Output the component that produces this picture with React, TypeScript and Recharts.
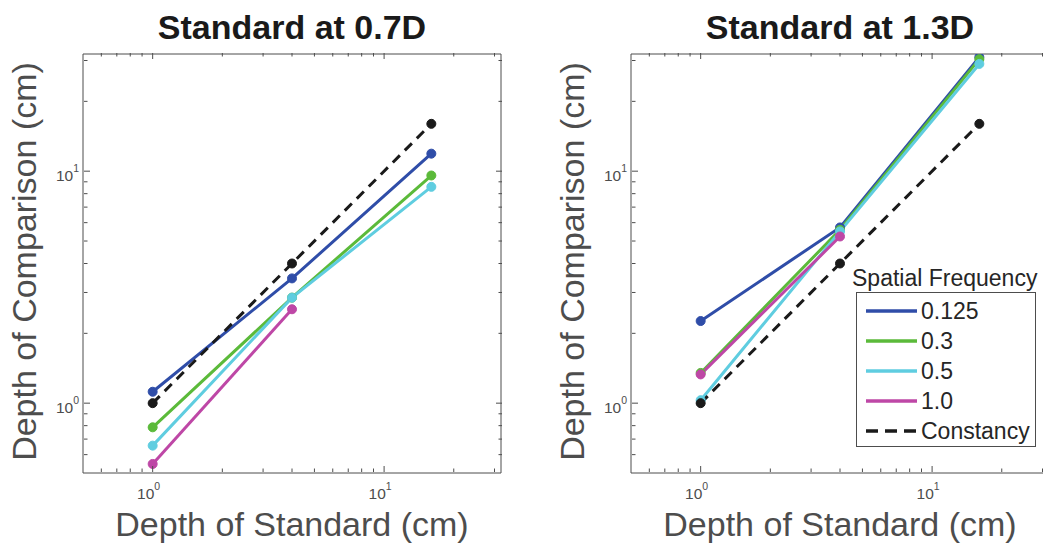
import { LineChart, Line, XAxis, YAxis, Legend, ReferenceArea } from 'recharts';

// depth of the standard (cm), shared by both panels
const standardDepths = [1, 4, 16];

// standard at 0.7D: depth of comparison (cm) per spatial frequency
const nearSf0125 = [1.12, 3.45, 11.9];
const nearSf03 = [0.787, 2.85, 9.58];
const nearSf05 = [0.656, 2.85, 8.56];
const nearSf10 = [0.547, 2.54, null];

// standard at 1.3D
const farSf0125 = [2.26, 5.72, 31.0];
const farSf03 = [1.35, 5.59, 30.4];
const farSf05 = [1.03, 5.5, 29.0];
const farSf10 = [1.33, 5.23, null];

const constancy = [1, 4, 16];

const seriesNames = ['0.125', '0.3', '0.5', '1.0', 'Constancy'];
const panelTitles = ['Standard at 0.7D', 'Standard at 1.3D'];
const xLabel = 'Depth of Standard (cm)';
const yLabel = 'Depth of Comparison (cm)';
const legendTitle = 'Spatial Frequency';

const axisDomain = [0.5, 32];
const majorTicks = [1, 10];
const axisTicks = [0.6, 0.7, 0.8, 0.9, 1, 2, 3, 4, 5, 6, 7, 8, 9, 10, 20, 30];

const FONT = '"Liberation Sans", Arial, Helvetica, sans-serif';
const AXIS = '#4d4d4d';
const TICK_TEXT = '#4d4d4d';
const COLORS = ['#2f4da8', '#5bba3a', '#5fcde0', '#be47a6', '#1a1a1a'];

const CHART_W = 511;
const CHART_H = 546;
const MARGIN = { top: 54, right: 10, bottom: 72, left: 82 };
const AXIS_SIZE = 1;
const PLOT_LEFT = MARGIN.left + AXIS_SIZE;
const PLOT_W = CHART_W - PLOT_LEFT - MARGIN.right;
const PLOT_H = CHART_H - MARGIN.top - MARGIN.bottom - AXIS_SIZE;

const buildRows = (s0: (number | null)[], s1: (number | null)[], s2: (number | null)[], s3: (number | null)[]) =>
  standardDepths.map((depth, i) => ({
    depth,
    sf0125: s0[i],
    sf03: s1[i],
    sf05: s2[i],
    sf10: s3[i],
    constancy: constancy[i],
  }));

const nearRows = buildRows(nearSf0125, nearSf03, nearSf05, nearSf10);
const farRows = buildRows(farSf0125, farSf03, farSf05, farSf10);

const seriesKeys = ['sf0125', 'sf03', 'sf05', 'sf10', 'constancy'];

function XTick(props: any) {
  const { x, y, payload } = props;
  const v = payload.value;
  const major = majorTicks.includes(v);
  const len = major ? 6 : 3.5;
  const base = y - AXIS_SIZE;
  return (
    <g>
      <line x1={x} x2={x} y1={base} y2={base - len} stroke={AXIS} />
      <line x1={x} x2={x} y1={base - PLOT_H} y2={base - PLOT_H + len} stroke={AXIS} />
      {major && (
        <text x={x - 4} y={base + 27} textAnchor="middle" fill={TICK_TEXT} fontSize={15.5} fontFamily={FONT}>
          10
          <tspan dy={-9.5} fontSize={10.5}>
            {Math.round(Math.log10(v))}
          </tspan>
        </text>
      )}
    </g>
  );
}

function YTick(props: any) {
  const { x, y, payload } = props;
  const v = payload.value;
  const major = majorTicks.includes(v);
  const len = major ? 6 : 3.5;
  const base = x + AXIS_SIZE;
  return (
    <g>
      <line x1={base} x2={base + len} y1={y} y2={y} stroke={AXIS} />
      <line x1={base + PLOT_W} x2={base + PLOT_W - len} y1={y} y2={y} stroke={AXIS} />
      {major && (
        <text x={base - 5} y={y + 10} textAnchor="end" fill={TICK_TEXT} fontSize={15.5} fontFamily={FONT}>
          10
          <tspan dy={-9.5} fontSize={10.5}>
            {Math.round(Math.log10(v))}
          </tspan>
        </text>
      )}
    </g>
  );
}

function FrequencyLegend(props: any) {
  const items = props.payload ?? [];
  return (
    <div style={{ fontFamily: FONT, color: '#262626' }}>
      <div style={{ fontSize: 23, lineHeight: '28px', whiteSpace: 'nowrap' }}>{legendTitle}</div>
      <div
        style={{
          marginLeft: 4,
          width: 180,
          height: 155,
          border: '1px solid #4d4d4d',
          boxSizing: 'border-box',
          background: '#fff',
          paddingTop: 3,
        }}
      >
        {items.map((entry: any) => {
          const dashed = entry.value === 'Constancy';
          return (
            <div key={entry.value} style={{ display: 'flex', alignItems: 'center', height: 30 }}>
              <svg width={64} height={30} style={{ display: 'block' }}>
                <line
                  x1={9}
                  x2={60}
                  y1={15}
                  y2={15}
                  stroke={entry.color}
                  strokeWidth={3.5}
                  strokeDasharray={dashed ? '12 7' : undefined}
                />
              </svg>
              <span style={{ fontSize: 23, lineHeight: '30px', whiteSpace: 'nowrap' }}>{entry.value}</span>
            </div>
          );
        })}
      </div>
    </div>
  );
}

function DepthPanel({ rows, showLegend }: { rows: any[]; showLegend?: boolean }) {
  return (
    <LineChart width={CHART_W} height={CHART_H} data={rows} margin={MARGIN}>
      <XAxis
        dataKey="depth"
        type="number"
        scale="log"
        domain={axisDomain}
        allowDataOverflow
        ticks={axisTicks}
        interval={0}
        height={AXIS_SIZE}
        axisLine={false}
        tickLine={false}
        tickSize={0}
        tickMargin={0}
        tick={(p: any) => <XTick {...p} />}
      />
      <YAxis
        type="number"
        scale="log"
        domain={axisDomain}
        allowDataOverflow
        ticks={axisTicks}
        interval={0}
        width={AXIS_SIZE}
        axisLine={false}
        tickLine={false}
        tickSize={0}
        tickMargin={0}
        tick={(p: any) => <YTick {...p} />}
      />
      <ReferenceArea
        x1={axisDomain[0]}
        x2={axisDomain[1]}
        y1={axisDomain[0]}
        y2={axisDomain[1]}
        fill="none"
        fillOpacity={0}
        stroke={AXIS}
        strokeWidth={1}
        ifOverflow="visible"
      />
      {seriesKeys.map((key, i) => (
        <Line
          key={key}
          dataKey={key}
          name={seriesNames[i]}
          stroke={COLORS[i]}
          strokeWidth={3}
          strokeDasharray={key === 'constancy' ? '10 7' : undefined}
          dot={{ r: 4.5, fill: COLORS[i], stroke: COLORS[i], strokeWidth: 1, strokeDasharray: '' }}
          activeDot={false}
          isAnimationActive={false}
        />
      ))}
      {showLegend && (
        <Legend
          layout="vertical"
          align="center"
          verticalAlign="middle"
          content={<FrequencyLegend />}
          wrapperStyle={{ left: 304, top: 264, width: 200 }}
        />
      )}
    </LineChart>
  );
}

const panelLefts = [0, 548];

export default function App() {
  return (
    <div
      style={{
        position: 'fixed',
        left: 0,
        top: 0,
        width: 1043,
        height: 546,
        overflow: 'hidden',
        background: '#fff',
      }}
    >
      <div style={{ position: 'absolute', left: panelLefts[0], top: 0 }}>
        <DepthPanel rows={nearRows} />
      </div>
      <div style={{ position: 'absolute', left: panelLefts[1], top: 0 }}>
        <DepthPanel rows={farRows} showLegend />
      </div>
      <svg
        width={1043}
        height={546}
        style={{ position: 'absolute', left: 0, top: 0, pointerEvents: 'none' }}
      >
        {panelLefts.map((left, i) => {
          const cx = left + PLOT_LEFT + PLOT_W / 2;
          const cy = MARGIN.top + PLOT_H / 2;
          return (
            <g key={i} fontFamily={FONT}>
              <text x={cx} y={39} textAnchor="middle" fontSize={34} fontWeight="bold" fill="#1a1a1a">
                {panelTitles[i]}
              </text>
              <text x={cx} y={536} textAnchor="middle" fontSize={34} fill={AXIS}>
                {xLabel}
              </text>
              <text
                transform={`translate(${left + PLOT_LEFT - 47},${cy - 2}) rotate(-90)`}
                textAnchor="middle"
                fontSize={34}
                fill={AXIS}
              >
                {yLabel}
              </text>
            </g>
          );
        })}
      </svg>
    </div>
  );
}
